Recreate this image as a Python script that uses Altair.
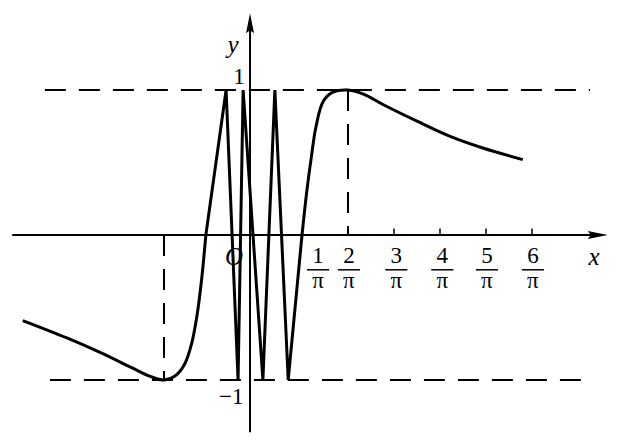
import altair as alt
import pandas as pd

# smooth branch left of the oscillation (x in units of 1/pi)
left_u = [-5.07, -4.11, -3.39, -2.67, -2.30, -2.00, -1.75, -1.55, -1.40, -1.28, -1.18, -1.09]
left_y = [-0.59, -0.71, -0.81, -0.92, -0.975, -1.00, -0.97, -0.89, -0.75, -0.55, -0.30, 0.0]
# schematic zig-zag near the origin
zig_u = [-1.09, -0.65, -0.39, -0.28, 0.15, 0.41, 0.70, 1.00]
zig_y = [0.0, 1.0, -1.0, 1.0, -1.0, 1.0, -1.0, 0.0]
# smooth branch right of the oscillation
right_u = [1.00, 1.10, 1.20, 1.30, 1.46, 1.67, 2.00, 2.35, 2.76, 3.50, 4.22, 4.93, 5.80]
right_y = [0.0, 0.29, 0.53, 0.74, 0.92, 0.985, 1.00, 0.97, 0.90, 0.785, 0.68, 0.60, 0.52]

tick_vals = [2, 3, 4, 5, 6]
frac_nums = ["1", "2", "3", "4", "5", "6"]
frac_pos = [1.35, 2.02, 3.05, 4.05, 5.02, 6.02]

W, H = 618, 428
X = alt.Scale(domain=[-5.3913, 8.0435], nice=False, zero=False)
Y = alt.Scale(domain=[-1.3862, 1.5655], nice=False, zero=False)
FONT = "Liberation Serif"


def xe(f="x"):
    return alt.X(f"{f}:Q", scale=X, axis=None)


def ye(f="y"):
    return alt.Y(f"{f}:Q", scale=Y, axis=None)


smooth_df = pd.concat([
    pd.DataFrame({"x": left_u, "y": left_y, "seg": "L"}),
    pd.DataFrame({"x": right_u, "y": right_y, "seg": "R"}),
])
smooth = alt.Chart(smooth_df).mark_line(
    interpolate="catmull-rom", color="black", strokeWidth=3
).encode(x=xe(), y=ye(), detail="seg:N")

zig_df = pd.DataFrame({"x": zig_u, "y": zig_y, "i": list(range(len(zig_u)))})
zig = alt.Chart(zig_df).mark_line(color="black", strokeWidth=3).encode(
    x=xe(), y=ye(), order="i:Q"
)

dash_df = pd.DataFrame({
    "x": [-4.59, -4.48, -2.0, 2.0],
    "x2": [7.26, 7.15, -2.0, 2.0],
    "y": [1.0, -1.0, 0.0, 1.0],
    "y2": [1.0, -1.0, -1.0, 0.0],
})
dashes = alt.Chart(dash_df).mark_rule(
    color="black", strokeWidth=2, strokeDash=[21, 13]
).encode(x=xe(), x2="x2:Q", y=ye(), y2="y2:Q")

axes_df = pd.DataFrame({
    "x": [-5.30, -0.13],
    "x2": [7.30, -0.13],
    "y": [0.0, -1.36],
    "y2": [0.0, 1.45],
})
axes = alt.Chart(axes_df).mark_rule(color="black", strokeWidth=2).encode(
    x=xe(), x2="x2:Q", y=ye(), y2="y2:Q"
)

arrow_df = pd.DataFrame({"x": [7.43, -0.13], "y": [0.0, 1.46], "k": ["r", "u"]})
arrow_r = alt.Chart(arrow_df[arrow_df.k == "r"]).mark_point(
    shape="M -1 -0.4 L 1 0 L -1 0.4 L -0.7 0 Z", size=400, filled=True,
    color="black", opacity=1, strokeWidth=0
).encode(x=xe(), y=ye())
arrow_u = alt.Chart(arrow_df[arrow_df.k == "u"]).mark_point(
    shape="M -0.4 1 L 0 -1 L 0.4 1 L 0 0.7 Z", size=400, filled=True,
    color="black", opacity=1, strokeWidth=0
).encode(x=xe(), y=ye())

tick_df = pd.DataFrame({"x": tick_vals, "y": [0.0] * 5, "y2": [0.045] * 5})
ticks = alt.Chart(tick_df).mark_rule(color="black", strokeWidth=1.5).encode(
    x=xe(), y=ye(), y2="y2:Q"
)

frac_df = pd.DataFrame({
    "x": frac_pos, "num": frac_nums,
    "yn": [-0.145] * 6, "yp": [-0.32] * 6, "yb": [-0.24] * 6,
    "xa": [p - 0.24 for p in frac_pos], "xb": [p + 0.24 for p in frac_pos],
})
nums = alt.Chart(frac_df).mark_text(
    font=FONT, fontSize=23, baseline="middle", align="center", color="black"
).encode(x=xe(), y=ye("yn"), text="num:N")
pis = alt.Chart(frac_df).mark_text(
    font=FONT, fontSize=23, baseline="middle", align="center", color="black",
    text="π"
).encode(x=xe(), y=ye("yp"))
bars = alt.Chart(frac_df).mark_rule(color="black", strokeWidth=1.5).encode(
    x=xe("xa"), x2="xb:Q", y=ye("yb")
)

lab_df = pd.DataFrame({
    "x": [-0.50, 7.35, -0.48, -0.37, -0.54],
    "y": [1.31, -0.152, -0.152, 1.09, -1.12],
    "t": ["y", "x", "O", "1", "−1"],
    "st": ["italic", "italic", "italic", "normal", "normal"],
})
labels_it = alt.Chart(lab_df[lab_df.st == "italic"]).mark_text(
    font=FONT, fontSize=25, fontStyle="italic", baseline="middle",
    align="center", color="black"
).encode(x=xe(), y=ye(), text="t:N")
labels_n = alt.Chart(lab_df[lab_df.st == "normal"]).mark_text(
    font=FONT, fontSize=23, baseline="middle", align="center", color="black"
).encode(x=xe(), y=ye(), text="t:N")

chart = alt.layer(
    dashes, axes, ticks, smooth, zig, arrow_r, arrow_u, nums, pis, bars,
    labels_it, labels_n
).properties(
    width=W, height=H, autosize=alt.AutoSizeParams(type="none"), padding=0
).configure_view(stroke=None)

chart.save("out.html", embed_options={"renderer": "svg", "actions": False})
